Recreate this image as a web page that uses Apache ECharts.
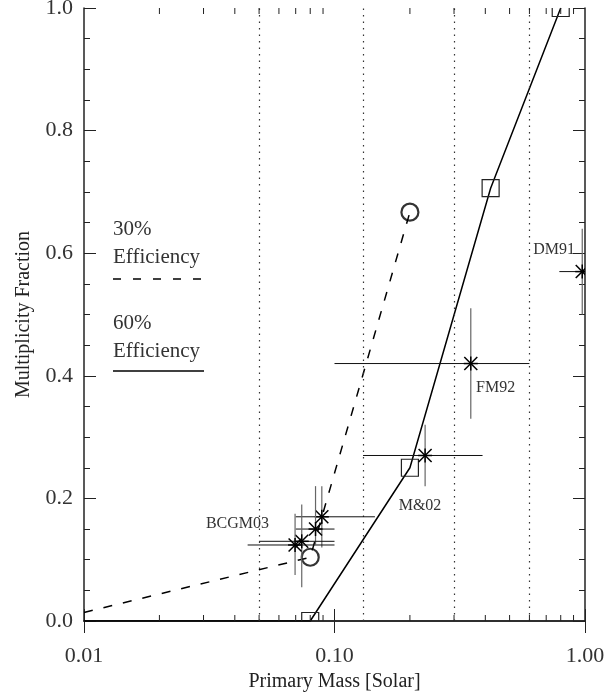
<!DOCTYPE html>
<html>
<head>
<meta charset="utf-8">
<script src="https://cdn.jsdelivr.net/npm/echarts@6/dist/echarts.min.js"></script>
<style>html,body{margin:0;padding:0;background:#fff}#c{width:605px;height:692px}</style>
</head>
<body>
<div id="c"></div>
<script>
// ---- data ----
const xTickLabels = ['0.01', '0.10', '1.00'];
const yTickLabels = ['0.0', '0.2', '0.4', '0.6', '0.8', '1.0'];
const minorXTicks = [0.02,0.03,0.04,0.05,0.06,0.07,0.08,0.09,0.2,0.3,0.4,0.5,0.6,0.7,0.8,0.9];
const dottedX = [0.05, 0.13, 0.3, 0.6];

// 60% efficiency model (solid) and 30% efficiency model (dashed)
const eff60Mass = [0.01, 0.08, 0.2, 0.42, 0.8];
const eff60Frac = [0.0, 0.0, 0.25, 0.706, 1.0];
const eff60SquareIdx = [1, 2, 3, 4];
const eff30Mass = [0.01, 0.08, 0.2];
const eff30Frac = [0.014, 0.104, 0.667];
const eff30CircleIdx = [1, 2];

// observed multiplicity points
const obsMass   = [0.089, 0.084, 0.074, 0.0696, 0.23, 0.35, 0.975];
const obsFrac   = [0.17, 0.15, 0.13, 0.124, 0.27, 0.42, 0.57];
const obsMassLo = [0.07, 0.07, 0.05, 0.045, 0.13, 0.10, 0.79];
const obsMassHi = [0.145, 0.10, 0.10, 0.10, 0.39, 0.60, 1.2];
const obsFracLo = [0.12, 0.125, 0.055, 0.075, 0.22, 0.33, 0.50];
const obsFracHi = [0.22, 0.22, 0.19, 0.175, 0.32, 0.51, 0.64];

const refLabels = ['BCGM03', 'M&02', 'FM92', 'DM91'];

// ---- chart ----
const chart = echarts.init(document.getElementById('c'));
const FONT = 'Liberation Serif, Times New Roman, serif';
const AX = '#222';

const solid = eff60Mass.map((m, i) => [m, eff60Frac[i]]);
const dashed = eff30Mass.map((m, i) => [m, eff30Frac[i]]);
const squares = eff60SquareIdx.map(i => [eff60Mass[i], eff60Frac[i]]);
const circles = eff30CircleIdx.map(i => [eff30Mass[i], eff30Frac[i]]);
const obs = obsMass.map((m, i) => [m, obsFrac[i], obsMassLo[i], obsMassHi[i], obsFracLo[i], obsFracHi[i]]);

const baseX = {
  type: 'log', logBase: 10, min: 0.01, max: 1,
  axisLine: { show: true, lineStyle: { color: AX, width: 1.5 } },
  axisTick: { show: true, inside: true, length: 12, lineStyle: { color: AX, width: 1 } },
  splitLine: { show: false }
};
const baseY = {
  type: 'value', min: 0, max: 1, interval: 0.2,
  axisLine: { show: true, lineStyle: { color: AX, width: 1.5 } },
  axisTick: { show: true, inside: true, length: 12, lineStyle: { color: AX, width: 1 } },
  minorTick: { show: true, splitNumber: 4, length: 6, lineStyle: { color: AX, width: 1 } },
  splitLine: { show: false }
};

const labelStyle = { fill: '#333', font: '16px ' + FONT };
const legFont = '21px ' + FONT;

chart.setOption({
  animation: false,
  backgroundColor: '#fff',
  grid: { left: 84, right: 20, top: 8, bottom: 71, outerBoundsMode: 'none', containLabel: false },
  xAxis: [
    Object.assign({}, baseX, {
      position: 'bottom',
      name: 'Primary Mass [Solar]', nameLocation: 'middle', nameGap: 49,
      nameTextStyle: { fontFamily: FONT, fontSize: 20, color: '#222' },
      axisLabel: {
        margin: 24, fontFamily: FONT, fontSize: 22, color: '#333',
        formatter: v => {
          const i = Math.round(Math.log10(v)) + 2;
          return xTickLabels[i] !== undefined ? xTickLabels[i] : '';
        }
      }
    }),
    Object.assign({}, baseX, { position: 'top', axisLabel: { show: false } })
  ],
  yAxis: [
    Object.assign({}, baseY, {
      position: 'left',
      name: 'Multiplicity Fraction', nameLocation: 'middle', nameGap: 50,
      nameTextStyle: { fontFamily: FONT, fontSize: 20, color: '#222' },
      axisLabel: {
        margin: 11, fontFamily: FONT, fontSize: 22, color: '#333',
        formatter: v => yTickLabels[Math.round(v / 0.2)]
      }
    }),
    Object.assign({}, baseY, { position: 'right', axisLabel: { show: false } })
  ],
  graphic: [
    { type: 'text', x: 113, y: 229, style: { text: '30%', fill: '#333', font: legFont, verticalAlign: 'middle' } },
    { type: 'text', x: 113, y: 257, style: { text: 'Efficiency', fill: '#333', font: legFont, verticalAlign: 'middle' } },
    { type: 'line', shape: { x1: 113, y1: 279, x2: 206, y2: 279 }, style: { stroke: '#000', lineWidth: 1.5, lineDash: [8, 12] } },
    { type: 'text', x: 113, y: 323, style: { text: '60%', fill: '#333', font: legFont, verticalAlign: 'middle' } },
    { type: 'text', x: 113, y: 351, style: { text: 'Efficiency', fill: '#333', font: legFont, verticalAlign: 'middle' } },
    { type: 'line', shape: { x1: 113, y1: 371, x2: 204, y2: 371 }, style: { stroke: '#000', lineWidth: 1.5 } },
    { type: 'text', x: 269, y: 524, style: Object.assign({ text: refLabels[0], align: 'right', verticalAlign: 'middle' }, labelStyle) },
    { type: 'text', x: 420, y: 506, style: Object.assign({ text: refLabels[1], align: 'center', verticalAlign: 'middle' }, labelStyle) },
    { type: 'text', x: 476, y: 388, style: Object.assign({ text: refLabels[2], align: 'left', verticalAlign: 'middle' }, labelStyle) },
    { type: 'text', x: 575, y: 250, style: Object.assign({ text: refLabels[3], align: 'right', verticalAlign: 'middle' }, labelStyle) }
  ],
  series: [
    {
      name: '60%', type: 'line', data: solid, symbol: 'none', z: 3,
      lineStyle: { color: '#000', width: 1.5 },
      markLine: {
        silent: true, symbol: 'none', label: { show: false },
        lineStyle: { color: '#333', width: 1.2, type: [1.5, 5] },
        data: dottedX.map(v => ({ xAxis: v }))
      }
    },
    {
      name: '30%', type: 'line', data: dashed, symbol: 'none', z: 3,
      lineStyle: { color: '#000', width: 1.5, type: [9, 11] }
    },
    {
      name: 'squares', type: 'custom', data: squares, clip: true, z: 4,
      encode: { x: 0, y: 1 },
      renderItem: (params, api) => {
        const p = api.coord([api.value(0), api.value(1)]);
        const s = 17;
        return { type: 'rect', shape: { x: p[0] - s / 2, y: p[1] - s / 2, width: s, height: s },
          style: { fill: 'none', stroke: '#222', lineWidth: 1.2 } };
      }
    },
    {
      name: 'circles', type: 'scatter', data: circles, symbol: 'circle', symbolSize: 17, z: 4,
      itemStyle: { color: 'rgba(0,0,0,0)', borderColor: '#000', borderWidth: 2.2 }
    },
    {
      name: 'observed', type: 'custom', data: obs, clip: true, z: 5,
      encode: { x: 0, y: 1 },
      renderItem: (params, api) => {
        const x = api.value(0), y = api.value(1);
        const p = api.coord([x, y]);
        const a = api.coord([api.value(2), y]), b = api.coord([api.value(3), y]);
        const c = api.coord([x, api.value(4)]), d = api.coord([x, api.value(5)]);
        const r = 7, rd = 6.5;
        const ln = (x1, y1, x2, y2, col, w) => ({ type: 'line', shape: { x1, y1, x2, y2 }, style: { stroke: col, lineWidth: w } });
        return { type: 'group', children: [
          ln(a[0], p[1], b[0], p[1], '#111', 1),
          ln(p[0], c[1], p[0], d[1], '#666', 1.2),
          ln(p[0] - rd, p[1] - rd, p[0] + rd, p[1] + rd, '#000', 1.5),
          ln(p[0] - rd, p[1] + rd, p[0] + rd, p[1] - rd, '#000', 1.5),
          ln(p[0] - r, p[1], p[0] + r, p[1], '#000', 1.5),
          ln(p[0], p[1] - r, p[0], p[1] + r, '#000', 1.5)
        ] };
      }
    },
    {
      name: 'minorX', type: 'custom', data: minorXTicks.map(v => [v, 0]), clip: false, z: 6,
      encode: { x: 0, y: 1 }, silent: true,
      renderItem: (params, api) => {
        const v = api.value(0);
        const b = api.coord([v, 0]), t = api.coord([v, 1]);
        const st = { stroke: AX, lineWidth: 1 };
        return { type: 'group', children: [
          { type: 'line', shape: { x1: b[0], y1: b[1], x2: b[0], y2: b[1] - 6 }, style: st },
          { type: 'line', shape: { x1: t[0], y1: t[1], x2: t[0], y2: t[1] + 6 }, style: st }
        ] };
      }
    }
  ]
});
</script>
</body>
</html>
